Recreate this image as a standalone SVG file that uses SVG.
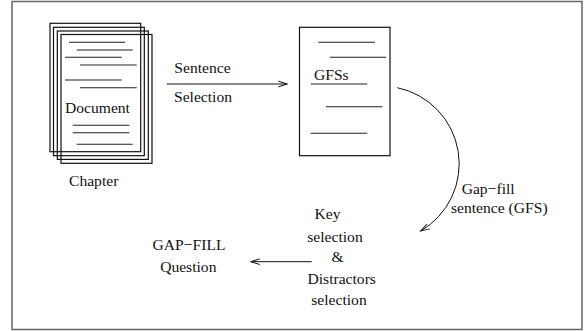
<svg xmlns="http://www.w3.org/2000/svg" width="588" height="331" viewBox="0 0 588 331">
<style>
text{font-family:"Liberation Serif","Times New Roman",serif;font-size:15.6px;fill:#111}
.pg{fill:none;stroke:#111;stroke-width:1.2}
.ln{stroke:#222;stroke-width:1.1}
.cn{fill:none;stroke:#111;stroke-width:1}
</style>
<defs>
<marker id="ah" markerUnits="userSpaceOnUse" markerWidth="12" markerHeight="8" refX="0" refY="0" viewBox="-10 -4 12 8" orient="auto" overflow="visible">
<path d="M-9,-2.8 L0,0 L-9,2.8" fill="none" stroke="#111" stroke-width="1"/>
</marker>
</defs>
<rect x="0" y="0" width="588" height="331" fill="#fff"/>
<rect id="frame" x="12" y="1.5" width="570" height="328" fill="none" stroke="#666" stroke-width="1.5"/>
<g id="chapter">
<rect class="pg" x="50" y="23.3" width="90.7" height="128.4"/>
<rect class="pg" x="53.5" y="27.3" width="90.8" height="128.4"/>
<rect class="pg" x="57.3" y="31" width="91" height="128.4"/>
<rect class="pg" x="61" y="34.5" width="91" height="128.8"/>
<line class="ln" x1="69" y1="42.3" x2="125" y2="42.3"/>
<line class="ln" x1="76.7" y1="50" x2="132.7" y2="50"/>
<line class="ln" x1="65" y1="57.3" x2="121.7" y2="57.3"/>
<line class="ln" x1="80" y1="65" x2="136.7" y2="65"/>
<line class="ln" x1="65" y1="80" x2="121.7" y2="80"/>
<line class="ln" x1="80" y1="87.7" x2="136.7" y2="87.7"/>
<text x="65" y="113">Document</text>
<line class="ln" x1="72.7" y1="125.3" x2="129.3" y2="125.3"/>
<line class="ln" x1="72.7" y1="132.7" x2="129.3" y2="132.7"/>
<line class="ln" x1="76.7" y1="144.3" x2="132.7" y2="144.3"/>
<text x="69" y="186">Chapter</text>
</g>
<g id="gfss">
<rect class="pg" x="299.5" y="27.3" width="90.5" height="128.4"/>
<line class="ln" x1="318.3" y1="42.3" x2="375" y2="42.3"/>
<line class="ln" x1="330" y1="57.3" x2="386" y2="57.3"/>
<text x="314" y="80">GFSs</text>
<line class="ln" x1="310.7" y1="84" x2="367.3" y2="84"/>
<line class="ln" x1="326" y1="106.7" x2="382.3" y2="106.7"/>
<line class="ln" x1="310.7" y1="133.3" x2="367.3" y2="133.3"/>
</g>
<g id="question">
<text x="189" y="250" text-anchor="middle">GAP−FILL</text>
<text x="188.3" y="272" text-anchor="middle">Question</text>
</g>
<g id="connectors">
<line class="cn" x1="166.7" y1="84" x2="287.3" y2="84" marker-end="url(#ah)"/>
<path class="cn" d="M397.3,87.7 A77.8,77.8 0 0 1 420.7,231" marker-end="url(#ah)"/>
<line class="cn" x1="311.7" y1="261.7" x2="250.7" y2="261.7" marker-end="url(#ah)"/>
</g>
<g id="labels">
<text x="174.3" y="72.7">Sentence</text>
<text x="174" y="102.3">Selection</text>
<text x="461.7" y="194">Gap−fill</text>
<text x="451" y="212.7">sentence (GFS)</text>
<text x="327.5" y="219" text-anchor="middle">Key</text>
<text x="335" y="241.7" text-anchor="middle">selection</text>
<text x="337.5" y="262.3" text-anchor="middle">&amp;</text>
<text x="341.7" y="284.3" text-anchor="middle">Distractors</text>
<text x="339" y="305" text-anchor="middle">selection</text>
</g>
</svg>
